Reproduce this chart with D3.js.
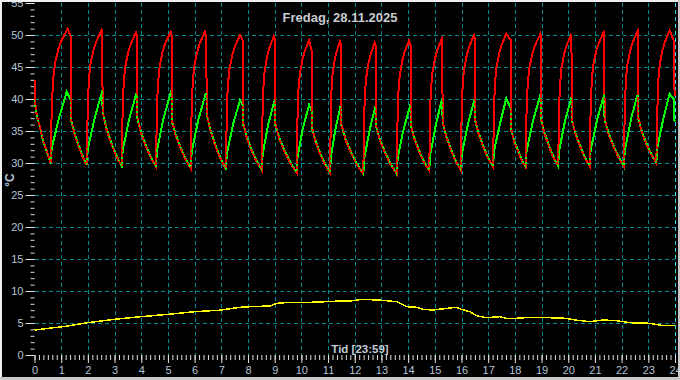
<!DOCTYPE html>
<html><head><meta charset="utf-8">
<script src="https://cdn.jsdelivr.net/npm/d3@7"></script>
<style>
html,body{margin:0;padding:0;background:#000;}
svg{display:block;}
</style></head>
<body><svg id="c" width="680" height="380"></svg>
<script>
// ---- data (hours, °C) ----
const title = "Fredag, 28.11.2025";
const xTitle = "Tid [23:59]";
const yTitle = "°C";
const hourTicks = d3.range(0, 25);
const tempTicks = [0,5,10,15,20,25,30,35,40,45,50,55];

const redSeries = [
 [0,43.0],[0.02,39.6],[0.08,37.6],[0.21,35.5],[0.33,33.4],[0.46,31.9],[0.58,30.3],
 [0.607,29.95],[0.64,37.5],[0.66,40.0],[0.71,43.5],[0.77,45.6],[0.9,47.9],[1.02,49.2],[1.243,51.0],[1.35,49.8],[1.356,37.2],[1.48,34.8],[1.63,32.9],[1.78,31.2],
 [1.955,29.7],[1.99,37.5],[2.005,40],[2.045,43.3],[2.095,45.4],[2.215,47.7],[2.315,49.0],[2.517,50.8],[2.545,50.2],[2.55,38.0],[2.693,35.3],[2.872,33.1],[3.05,31.2],
 [3.265,29.5],[3.30,37.5],[3.315,40],[3.35,42.9],[3.40,45.0],[3.51,47.3],[3.61,48.6],[3.80,50.4],[3.845,49.8],[3.85,37.2],[3.99,34.7],[4.165,32.7],[4.34,31.0],
 [4.55,29.4],[4.585,37.5],[4.60,40],[4.64,43.0],[4.69,45.1],[4.80,47.4],[4.90,48.7],[5.10,50.5],[5.145,49.9],[5.15,36.7],[5.29,34.3],[5.465,32.4],[5.64,30.7],
 [5.85,29.2],[5.885,37.5],[5.90,40],[5.936,43.0],[5.984,45.1],[6.097,47.4],[6.193,48.7],[6.386,50.5],[6.44,49.7],[6.45,37.8],[6.594,35.0],[6.774,32.7],[6.954,30.8],
 [7.17,29.0],[7.205,37.5],[7.22,40],[7.255,42.5],[7.30,44.6],[7.414,46.9],[7.509,48.2],[7.70,50.0],[7.815,49.0],[7.82,36.2],[7.958,33.9],[8.13,32.0],[8.30,30.4],
 [8.51,28.9],[8.545,37.5],[8.56,40],[8.584,42.3],[8.625,44.4],[8.72,46.7],[8.80,48.0],[8.97,49.8],[9.015,49.2],[9.02,36.2],[9.18,33.7],[9.38,31.7],[9.58,30.0],
 [9.82,28.5],[9.855,37],[9.87,39.5],[9.895,41.7],[9.94,43.8],[10.036,46.1],[10.12,47.4],[10.29,49.2],[10.395,47.4],[10.40,35.5],[10.534,33.3],[10.70,31.4],[10.87,29.9],
 [11.07,28.5],[11.105,37],[11.12,39.5],[11.13,41.5],[11.163,43.6],[11.24,45.9],[11.307,47.2],[11.44,49.0],[11.495,48.4],[11.5,36],[11.664,33.5],[11.87,31.5],[12.074,29.8],
 [12.32,28.3],[12.355,37],[12.37,39.5],[12.39,41.3],[12.43,43.4],[12.52,45.7],[12.595,47.0],[12.75,48.8],[12.785,48.3],[12.79,36],[12.946,33.5],[13.14,31.5],[13.336,29.8],
 [13.57,28.3],[13.605,37],[13.62,39.5],[13.644,41.6],[13.685,43.7],[13.78,46.0],[13.864,47.3],[14.03,49.1],[14.095,48.3],[14.10,36],[14.238,33.7],[14.41,31.8],[14.583,30.2],
 [14.79,28.8],[14.825,37.5],[14.84,40],[14.867,42.0],[14.91,44.1],[15.01,46.4],[15.097,47.7],[15.27,49.5],[15.285,49.3],[15.29,36.5],[15.426,34.1],[15.596,32.1],[15.766,30.4],
 [15.97,28.9],[16.005,37.5],[16.02,40],[16.05,42.5],[16.095,44.6],[16.20,46.9],[16.29,48.2],[16.47,50.0],[16.495,49.6],[16.50,37],[16.636,34.6],[16.806,32.6],[16.976,30.9],
 [17.18,29.4],[17.215,37.5],[17.23,40],[17.26,42.7],[17.305,44.8],[17.41,47.1],[17.50,48.4],[17.68,50.2],[17.845,49.2],[17.85,35.5],[17.96,33.5],[18.10,32.0],[18.235,30.6],
 [18.40,29.4],[18.435,37.5],[18.45,40],[18.49,42.7],[18.54,44.8],[18.658,47.1],[18.758,48.4],[18.96,50.2],[18.975,49.8],[18.98,37],[19.108,34.6],[19.268,32.7],[19.428,31.0],
 [19.62,29.5],[19.655,37.5],[19.67,40],[19.70,42.7],[19.745,44.8],[19.85,47.1],[19.94,48.4],[20.12,50.2],[20.13,37],[20.264,34.6],[20.43,32.7],[20.60,31.0],
 [20.80,29.5],[20.835,37.5],[20.85,40],[20.885,43.0],[20.93,45.1],[21.044,47.4],[21.14,48.7],[21.33,50.5],[21.355,50.0],[21.36,37],[21.504,34.6],[21.684,32.7],[21.864,31.0],
 [22.08,29.5],[22.115,37.5],[22.13,40],[22.165,43.2],[22.21,45.3],[22.324,47.6],[22.42,48.9],[22.61,50.7],[22.625,50.3],[22.63,37],[22.764,34.7],[22.93,32.9],[23.10,31.4],
 [23.30,29.95],[23.335,37.5],[23.35,40],[23.38,43.2],[23.425,45.3],[23.53,47.6],[23.62,48.9],[23.80,50.7],[23.95,49.2],[23.97,41.9],[24,40.5]
];

const greenSeries = [
 [0,39.8],[0.08,37.5],[0.21,35.4],[0.33,33.3],[0.46,31.8],[0.58,30.2],
 [0.607,29.95],[0.647,32.4],[0.93,37.2],[1.206,41.1],[1.35,39.9],[1.356,37.0],[1.48,34.95],[1.63,33.05],[1.78,31.35],
 [1.955,29.7],[1.995,32.2],[2.26,37.1],[2.53,41.1],[2.545,40.9],[2.55,38.0],[2.693,35.45],[2.872,33.25],[3.05,31.35],
 [3.265,29.5],[3.305,32.0],[3.55,36.9],[3.82,40.9],[3.845,40.5],[3.85,37.0],[3.99,34.85],[4.165,32.85],[4.34,31.15],
 [4.55,29.4],[4.59,31.9],[4.83,36.9],[5.10,40.9],[5.145,40.3],[5.15,36.5],[5.29,34.45],[5.465,32.55],[5.64,30.85],
 [5.85,29.2],[5.89,31.7],[6.14,36.8],[6.42,40.9],[6.445,40.4],[6.45,37.6],[6.594,35.15],[6.774,32.85],[6.954,30.95],
 [7.17,29.0],[7.21,31.5],[7.45,36.2],[7.70,39.8],[7.815,39.0],[7.82,36.0],[7.958,34.05],[8.13,32.15],[8.30,30.55],
 [8.51,28.9],[8.55,31.4],[8.76,36.1],[9.00,39.8],[9.015,39.4],[9.02,36.0],[9.18,33.85],[9.38,31.85],[9.58,30.15],
 [9.82,28.5],[9.86,31.0],[10.05,35.3],[10.29,39.1],[10.395,38.0],[10.40,35.3],[10.534,33.45],[10.70,31.55],[10.87,30.05],
 [11.07,28.5],[11.11,31.0],[11.27,35.2],[11.47,38.9],[11.495,38.5],[11.5,35.8],[11.664,33.65],[11.87,31.65],[12.074,29.95],
 [12.32,28.3],[12.36,30.8],[12.55,35.0],[12.77,38.8],[12.785,38.6],[12.79,35.8],[12.946,33.65],[13.14,31.65],[13.336,29.95],
 [13.57,28.3],[13.61,30.8],[13.82,35.1],[14.07,38.9],[14.095,38.5],[14.10,35.8],[14.238,33.85],[14.41,31.95],[14.583,30.35],
 [14.79,28.8],[14.83,31.3],[15.03,35.8],[15.25,39.7],[15.285,39.3],[15.29,36.3],[15.426,34.25],[15.596,32.25],[15.766,30.55],
 [15.97,28.9],[16.01,31.4],[16.24,36.0],[16.48,39.9],[16.495,39.6],[16.50,36.8],[16.636,34.75],[16.806,32.75],[16.976,31.05],
 [17.18,29.4],[17.22,31.9],[17.45,36.3],[17.68,40.1],[17.845,38.5],[17.85,35.3],[17.96,33.65],[18.10,32.15],[18.235,30.75],
 [18.40,29.4],[18.44,31.9],[18.68,36.6],[18.94,40.4],[18.975,40.0],[18.98,36.8],[19.108,34.75],[19.268,32.85],[19.428,31.15],
 [19.62,29.5],[19.66,32.0],[19.88,36.6],[20.12,40.2],[20.13,36.8],[20.264,34.75],[20.43,32.85],[20.60,31.15],
 [20.80,29.5],[20.84,32.0],[21.09,36.9],[21.35,40.8],[21.36,36.8],[21.504,34.75],[21.684,32.85],[21.864,31.15],
 [22.08,29.5],[22.12,32.0],[22.36,37.0],[22.61,40.9],[22.625,40.6],[22.63,36.8],[22.764,34.85],[22.93,33.05],[23.10,31.55],
 [23.30,29.95],[23.34,32.4],[23.57,37.1],[23.80,40.8],[23.95,40.0],[23.97,36.7],[24,36.5]
];

const yellowSeries = [
 [0,3.9],[0.58,4.2],[1.21,4.5],[1.98,5.05],[2.95,5.55],[4.01,6.0],[5.01,6.35],[6.01,6.77],[6.95,7.0],[7.32,7.23],
 [7.70,7.45],[8.07,7.55],[8.82,7.66],[9.07,8.07],[9.57,8.23],[10.32,8.23],[10.94,8.33],[11.44,8.44],[11.94,8.48],
 [12.25,8.7],[12.82,8.6],[13.19,8.48],[13.57,8.33],[13.94,7.55],[14.31,7.45],[14.56,7.13],[14.94,7.03],[15.44,7.28],
 [15.81,7.45],[16.0,7.13],[16.31,6.77],[16.56,6.14],[16.94,5.83],[17.43,5.98],[17.69,5.73],[18.06,5.73],[18.56,5.89],
 [19.31,5.83],[19.93,5.73],[20.25,5.47],[20.81,5.2],[21.30,5.47],[21.81,5.36],[22.31,5.05],[23.06,4.95],[23.49,4.63],[24,4.63]
];

// ---- chart ----
const W = 680, H = 380;
const svg = d3.select("#c");
const x = d3.scaleLinear().domain([0, 24]).range([34.5, 675]);
const y = d3.scaleLinear().domain([0, 55]).range([355, 3]);
const labelColor = "#b4c4d8";
const fontFam = "'Liberation Sans', Arial, sans-serif";

svg.append("rect").attr("width", W).attr("height", H).attr("fill", "#000");

// grid
const grid = svg.append("g").attr("stroke", "#008c8c").attr("stroke-dasharray", "4,3").attr("shape-rendering", "crispEdges");
grid.selectAll("line.v").data(d3.range(1, 24)).join("line")
  .attr("x1", d => Math.round(x(d)) + 0.5).attr("x2", d => Math.round(x(d)) + 0.5)
  .attr("y1", y(55)).attr("y2", y(0));
grid.selectAll("line.h").data(d3.range(5, 55, 5)).join("line")
  .attr("y1", d => Math.round(y(d)) + 0.5).attr("y2", d => Math.round(y(d)) + 0.5)
  .attr("x1", x(0)).attr("x2", x(24));
// current-time marker at right edge
svg.append("line").attr("x1", Math.round(x(24)) + 0.5).attr("x2", Math.round(x(24)) + 0.5)
  .attr("y1", y(55)).attr("y2", y(0)).attr("stroke", "#30d8f0").attr("stroke-dasharray", "4,3");

// axes
function styleAxis(g, labels) {
  g.select(".domain").remove();
  g.selectAll(".tick line").attr("stroke", "#e0e0e0");
  g.selectAll(".tick text").attr("fill", labelColor).attr("font-family", fontFam).attr("font-size", 11);
  if (!labels) g.selectAll(".tick text").remove();
}
svg.append("g").attr("transform", `translate(${x(0)},0)`)
  .call(d3.axisLeft(y).tickValues(d3.range(0, 56, 1)).tickSize(4).tickFormat(""))
  .call(g => styleAxis(g, false));
svg.append("g").attr("transform", `translate(${x(0)},0)`)
  .call(d3.axisLeft(y).tickValues(tempTicks).tickSize(9).tickPadding(2).tickFormat(d3.format("d")))
  .call(g => styleAxis(g, true));
svg.append("g").attr("transform", `translate(0,${y(0)})`)
  .call(d3.axisBottom(x).tickValues(d3.range(0, 24.01, 1/6)).tickSize(5).tickFormat(""))
  .call(g => styleAxis(g, false));
svg.append("g").attr("transform", `translate(0,${y(0)})`)
  .call(d3.axisBottom(x).tickValues(hourTicks).tickSize(8).tickPadding(3).tickFormat(d3.format("d")))
  .call(g => styleAxis(g, true));

// series
const line = d3.line().x(d => x(d[0])).y(d => y(d[1]));
svg.append("path").datum(yellowSeries).attr("d", line).attr("fill", "none").attr("stroke", "#ffff00")
  .attr("stroke-width", 1.5).attr("shape-rendering", "crispEdges");
svg.append("path").datum(greenSeries).attr("d", line).attr("fill", "none").attr("stroke", "#00ff00")
  .attr("stroke-width", 2).attr("shape-rendering", "crispEdges");
svg.append("path").datum(redSeries).attr("d", line).attr("fill", "none").attr("stroke", "#ff0000")
  .attr("stroke-width", 2).attr("shape-rendering", "crispEdges");
// green overlay (dashed) so the shared cooling segments show both colours interleaved
svg.append("path").datum(greenSeries).attr("d", line).attr("fill", "none").attr("stroke", "#00ff00")
  .attr("stroke-width", 1.5).attr("stroke-dasharray", "2,3").attr("shape-rendering", "crispEdges");

// texts
svg.append("text").attr("x", 340).attr("y", 22).attr("text-anchor", "middle")
  .attr("font-family", fontFam).attr("font-weight", "bold").attr("font-size", 13)
  .attr("fill", "#c8ccd0").text(title);
svg.append("text").attr("x", 360).attr("y", 353).attr("text-anchor", "middle")
  .attr("font-family", fontFam).attr("font-weight", "bold").attr("font-size", 11.5)
  .attr("fill", "#c0ccd8").text(xTitle);
svg.append("text").attr("transform", "translate(14,180) rotate(-90)").attr("text-anchor", "middle")
  .attr("font-family", fontFam).attr("font-weight", "bold").attr("font-size", 12)
  .attr("fill", labelColor).text(yTitle);

// frame
svg.append("line").attr("x1", 0).attr("x2", W).attr("y1", 1).attr("y2", 1).attr("stroke", "#f0f0f0").attr("stroke-width", 2);
svg.append("line").attr("x1", 1).attr("x2", 1).attr("y1", 0).attr("y2", H).attr("stroke", "#f0f0f0").attr("stroke-width", 2);
svg.append("line").attr("x1", 0).attr("x2", W).attr("y1", H - 1.5).attr("y2", H - 1.5).attr("stroke", "#c8c8c8").attr("stroke-width", 3);
svg.append("line").attr("x1", W - 1).attr("x2", W - 1).attr("y1", 0).attr("y2", H).attr("stroke", "#c8c8c8").attr("stroke-width", 2);
</script></body></html>
